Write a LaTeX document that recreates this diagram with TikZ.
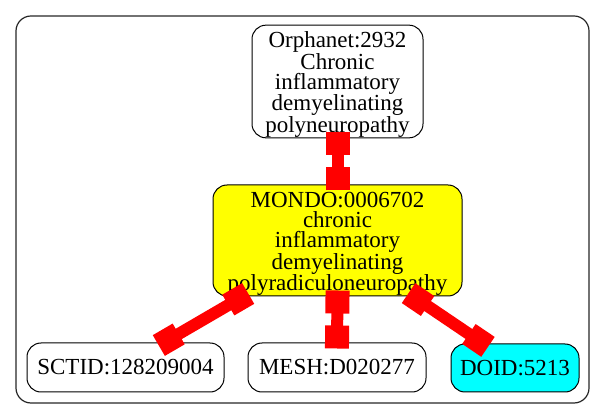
\documentclass[tikz,border=0pt]{standalone}
\usepackage{fontspec}
\setmainfont{Liberation Serif}
\usetikzlibrary{calc}
\definecolor{edgered}{RGB}{255,0,0}
\definecolor{nodeyellow}{RGB}{255,255,0}
\definecolor{nodecyan}{RGB}{0,255,255}
\newcommand\teeedge[2]{%
  \draw[link] (#1) -- (#2);
  \draw[teebar] ($(#1)!-6pt!(#2)$) -- ($(#1)!17pt!(#2)$);
  \draw[teebar] ($(#2)!-6pt!(#1)$) -- ($(#2)!17pt!(#1)$);
}
\newcommand\firstline{\rule{0pt}{22pt}}
\begin{document}
\begin{tikzpicture}[x=1pt,y=-1pt,
  box/.style={draw=black, line width=1pt, rounded corners=14pt, align=center,
    inner sep=0pt, font=\fontsize{23}{20}\selectfont},
  link/.style={draw=edgered, line width=12pt},
  teebar/.style={draw=edgered, line width=24pt}]
\useasboundingbox (0,0) rectangle (605,419);
\draw[line width=1.2pt, rounded corners=15pt, draw=black!85] (16,16) rectangle (589,403);

\node[box, minimum width=171pt, minimum height=111pt] (orph) at (337.5,81.5)
  {\firstline Orphanet:2932\\Chronic\\inflammatory\\demyelinating\\polyneuropathy};
\node[box, fill=nodeyellow, minimum width=249pt, minimum height=111pt] (mondo) at (337.5,240.5)
  {\firstline MONDO:0006702\\chronic\\inflammatory\\demyelinating\\polyradiculoneuropathy};
\node[box, minimum width=197pt, minimum height=49pt] (sct) at (125.5,367.5) {SCTID:128209004};
\node[box, minimum width=178pt, minimum height=49pt] (mesh) at (337,367.5) {MESH:D020277};
\node[box, fill=nodecyan, minimum width=128pt, minimum height=48pt] (doid) at (515,368) {DOID:5213};

\coordinate (mL) at ($(mondo.south)+(-94.5,0)$);
\coordinate (mR) at ($(mondo.south)+(76,0)$);
\coordinate (sT) at ($(sct.north)+(38.5,0)$);
\coordinate (dT) at ($(doid.north)+(-32,0)$);
\coordinate (oB) at (orph.south);
\coordinate (mT) at (mondo.north);
\coordinate (mB) at (mondo.south);
\coordinate (eT) at (mesh.north);

\teeedge{oB}{mT}
\teeedge{mL}{sT}
\teeedge{mB}{eT}
\teeedge{mR}{dT}
\end{tikzpicture}
\end{document}
